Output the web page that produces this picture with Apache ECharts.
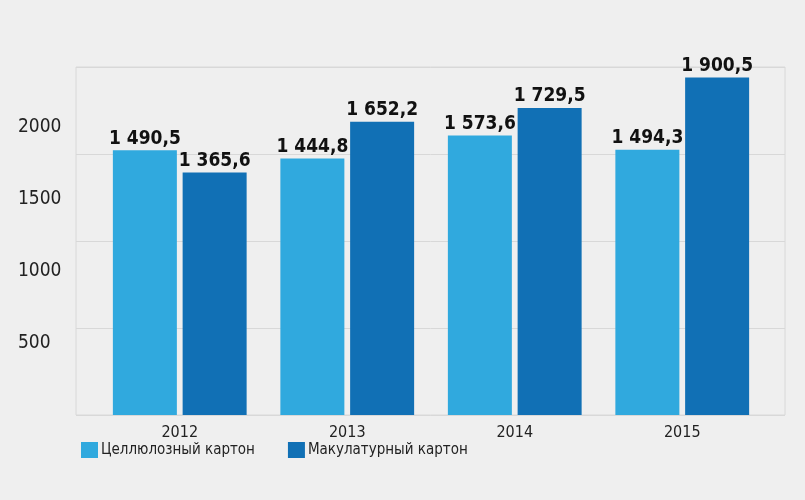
<!DOCTYPE html>
<html>
<head>
<meta charset="utf-8">
<script src="https://cdn.jsdelivr.net/npm/echarts@6/dist/echarts.min.js"></script>
<style>
  html, body { margin: 0; padding: 0; background: #efefef; }
  #chart { width: 805px; height: 500px; }
</style>
</head>
<body>
<div id="chart"></div>
<script>
// данные
var years = ['2012', '2013', '2014', '2015'];
var cellulose = [1490.5, 1444.8, 1573.6, 1494.3];   // Целлюлозный картон
var recycled = [1365.6, 1652.2, 1729.5, 1900.5];    // Макулатурный картон
var tickLabels = [500, 1000, 1500, 2000];

var lightBlue = '#30a9de';
var darkBlue = '#1170b5';
var narrowFont = '"Liberation Sans Narrow", "DejaVu Sans Condensed", sans-serif';

// 1 490,5
function fmt(v) {
    var s = v.toFixed(1).replace('.', ',');
    var parts = s.split(',');
    var intPart = parts[0].replace(/\B(?=(\d{3})+(?!\d))/g, ' ');
    return intPart + ',' + parts[1];
}

var barLabel = {
    show: true,
    position: 'top',
    distance: 2,
    fontFamily: 'DejaVu Sans Condensed',
    fontWeight: 'bold',
    fontSize: 19,
    color: '#111',
    formatter: function (p) { return fmt(p.value); }
};

var myChart = echarts.init(document.getElementById('chart'));
myChart.setOption({
    backgroundColor: '#efefef',
    animation: false,
    legend: {
        left: 81,
        top: 442,
        padding: 0,
        itemWidth: 17,
        itemHeight: 16,
        itemGap: 33,
        icon: 'rect',
        textStyle: { fontFamily: narrowFont, fontSize: 15, color: '#222', padding: [0, 0, 0, -2] },
        data: ['Целлюлозный картон', 'Макулатурный картон']
    },
    grid: [
        // сетка на всю ширину
        { left: 76, right: 20, top: 67, bottom: 85, show: true, borderColor: '#d8d8d8', borderWidth: 1 },
        // столбцы
        { left: 96, right: 39, top: 67, bottom: 85 }
    ],
    xAxis: [
        { gridIndex: 0, type: 'value', show: false },
        {
            gridIndex: 1,
            type: 'category',
            data: years,
            axisLine: { show: false },
            axisTick: { show: false },
            axisLabel: { margin: 10, fontFamily: narrowFont, fontSize: 16, color: '#222' }
        }
    ],
    yAxis: [
        {
            gridIndex: 0, type: 'value', min: 0, max: 1960, interval: 490, position: 'left',
            axisLine: { show: false }, axisTick: { show: false }, axisLabel: { show: false },
            splitLine: { lineStyle: { color: '#d8d8d8', width: 1 } }
        },
        {
            gridIndex: 0, type: 'value', min: 0, max: 2420, interval: 500, position: 'left',
            axisLine: { show: false }, axisTick: { show: false }, splitLine: { show: false },
            axisLabel: {
                align: 'left',
                margin: 58,
                fontFamily: 'DejaVu Sans Condensed',
                fontSize: 19,
                color: '#222',
                formatter: function (v) { return tickLabels.indexOf(v) >= 0 ? String(v) : ''; }
            }
        },
        {
            gridIndex: 1, type: 'value', min: 0, max: 1960, interval: 490, show: false
        }
    ],
    series: [
        {
            name: 'Целлюлозный картон',
            type: 'bar',
            xAxisIndex: 1,
            yAxisIndex: 2,
            data: cellulose,
            barWidth: 64,
            barGap: '9%',
            itemStyle: { color: lightBlue },
            label: barLabel
        },
        {
            name: 'Макулатурный картон',
            type: 'bar',
            xAxisIndex: 1,
            yAxisIndex: 2,
            data: recycled,
            barWidth: 64,
            barGap: '9%',
            itemStyle: { color: darkBlue },
            label: barLabel
        }
    ]
});
</script>
</body>
</html>
